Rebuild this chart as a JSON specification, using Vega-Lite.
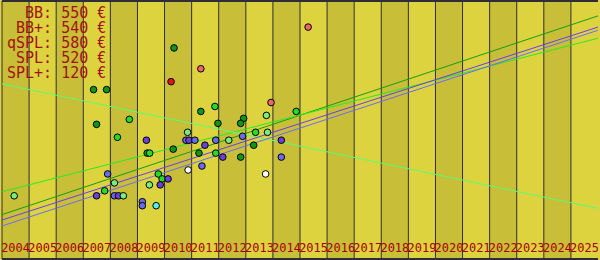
{
  "$schema": "https://vega.github.io/schema/vega-lite/v6.json",
  "width": 600,
  "height": 260,
  "autosize": {"type": "fit", "contains": "padding"},
  "padding": 0,
  "background": "#ddd33e",
  "config": {
    "view": {"stroke": null}
  },
  "datasets": {
    "years": [
      {"year": 2004, "end": 2005, "parity": "even"},
      {"year": 2005, "end": 2006, "parity": "odd"},
      {"year": 2006, "end": 2007, "parity": "even"},
      {"year": 2007, "end": 2008, "parity": "odd"},
      {"year": 2008, "end": 2009, "parity": "even"},
      {"year": 2009, "end": 2010, "parity": "odd"},
      {"year": 2010, "end": 2011, "parity": "even"},
      {"year": 2011, "end": 2012, "parity": "odd"},
      {"year": 2012, "end": 2013, "parity": "even"},
      {"year": 2013, "end": 2014, "parity": "odd"},
      {"year": 2014, "end": 2015, "parity": "even"},
      {"year": 2015, "end": 2016, "parity": "odd"},
      {"year": 2016, "end": 2017, "parity": "even"},
      {"year": 2017, "end": 2018, "parity": "odd"},
      {"year": 2018, "end": 2019, "parity": "even"},
      {"year": 2019, "end": 2020, "parity": "odd"},
      {"year": 2020, "end": 2021, "parity": "even"},
      {"year": 2021, "end": 2022, "parity": "odd"},
      {"year": 2022, "end": 2023, "parity": "even"},
      {"year": 2023, "end": 2024, "parity": "odd"},
      {"year": 2024, "end": 2025, "parity": "even"},
      {"year": 2025, "end": 2026, "parity": "odd"}
    ],
    "frame": [
      {"price": 0},
      {"price": 260}
    ],
    "trends": [
      {"series": "BB", "year": 2004, "price": 44.7},
      {"series": "BB", "year": 2026, "price": 245},
      {"series": "BB+", "year": 2004, "price": 67.7},
      {"series": "BB+", "year": 2026, "price": 222.5},
      {"series": "qSPL", "year": 2004, "price": 176.5},
      {"series": "qSPL", "year": 2026, "price": 51},
      {"series": "SPL", "year": 2004, "price": 39.3},
      {"series": "SPL", "year": 2026, "price": 233.7},
      {"series": "SPL+", "year": 2004, "price": 33.3},
      {"series": "SPL+", "year": 2026, "price": 230.5}
    ],
    "points": [
      {"series": "BB", "year": 2007.38, "price": 170.7},
      {"series": "BB", "year": 2007.86, "price": 170.7},
      {"series": "R", "year": 2010.24, "price": 178.7},
      {"series": "BB", "year": 2007.49, "price": 135.7},
      {"series": "BB+", "year": 2008.70, "price": 140.7},
      {"series": "BB+", "year": 2008.26, "price": 122.7},
      {"series": "BB", "year": 2011.34, "price": 148.7},
      {"series": "SPL", "year": 2009.33, "price": 119.7},
      {"series": "qSPL", "year": 2010.85, "price": 127.7},
      {"series": "SPL+", "year": 2010.79, "price": 119.7},
      {"series": "SPL", "year": 2010.90, "price": 119.7},
      {"series": "SPL+", "year": 2011.12, "price": 119.7},
      {"series": "BB", "year": 2009.36, "price": 106.7},
      {"series": "BB+", "year": 2009.45, "price": 106.7},
      {"series": "BB", "year": 2010.32, "price": 110.7},
      {"series": "BB", "year": 2011.27, "price": 106.7},
      {"series": "W", "year": 2010.87, "price": 89.7},
      {"series": "SPL+", "year": 2007.90, "price": 85.7},
      {"series": "BB+", "year": 2009.77, "price": 85.7},
      {"series": "BB+", "year": 2009.91, "price": 80.7},
      {"series": "SPL", "year": 2010.13, "price": 80.7},
      {"series": "qSPL", "year": 2008.15, "price": 76.7},
      {"series": "BB+", "year": 2007.79, "price": 68.7},
      {"series": "qSPL", "year": 2009.44, "price": 74.7},
      {"series": "SPL", "year": 2009.84, "price": 74.7},
      {"series": "SPL", "year": 2007.49, "price": 63.7},
      {"series": "SPL+", "year": 2008.15, "price": 63.7},
      {"series": "SPL", "year": 2008.30, "price": 63.7},
      {"series": "qSPL", "year": 2008.48, "price": 63.7},
      {"series": "qSPL", "year": 2004.45, "price": 63.7},
      {"series": "SPL+", "year": 2009.18, "price": 57.7},
      {"series": "SPL+", "year": 2009.18, "price": 53.7},
      {"series": "C", "year": 2009.69, "price": 53.7},
      {"series": "SPL+", "year": 2011.38, "price": 93.7},
      {"series": "S", "year": 2013.93, "price": 157.7},
      {"series": "BB+", "year": 2011.86, "price": 153.7},
      {"series": "BB+", "year": 2014.86, "price": 148.7},
      {"series": "qSPL", "year": 2013.76, "price": 144.7},
      {"series": "BB", "year": 2012.92, "price": 141.7},
      {"series": "BB", "year": 2012.81, "price": 136.7},
      {"series": "BB", "year": 2011.97, "price": 136.7},
      {"series": "BB+", "year": 2013.36, "price": 127.7},
      {"series": "qSPL", "year": 2013.80, "price": 127.7},
      {"series": "qSPL", "year": 2012.37, "price": 119.7},
      {"series": "SPL+", "year": 2011.89, "price": 119.7},
      {"series": "SPL+", "year": 2012.88, "price": 123.7},
      {"series": "SPL", "year": 2011.49, "price": 114.7},
      {"series": "BB", "year": 2013.29, "price": 114.7},
      {"series": "SPL", "year": 2014.31, "price": 119.7},
      {"series": "BB+", "year": 2011.89, "price": 106.7},
      {"series": "SPL", "year": 2012.15, "price": 102.7},
      {"series": "BB", "year": 2012.81, "price": 102.7},
      {"series": "SPL+", "year": 2014.31, "price": 102.7},
      {"series": "W", "year": 2013.73, "price": 85.7},
      {"series": "BB", "year": 2010.35, "price": 212.7},
      {"series": "S", "year": 2011.34, "price": 191.7},
      {"series": "S", "year": 2015.30, "price": 233.7}
    ],
    "legend": [
      {"label": "BB: 550 €"},
      {"label": "BB+: 540 €"},
      {"label": "qSPL: 580 €"},
      {"label": "SPL: 520 €"},
      {"label": "SPL+: 120 €"}
    ]
  },
  "layer": [
    {
      "layer": [
        {
          "data": {"name": "years"},
          "mark": {"type": "rect"},
          "encoding": {
            "x": {"field": "year", "type": "quantitative",
                  "scale": {"domain": [2004, 2026], "nice": false, "zero": false},
                  "axis": null},
            "x2": {"field": "end"},
            "color": {"field": "parity", "type": "nominal",
                      "scale": {"domain": ["even", "odd"], "range": ["#c8be37", "#ddd33e"]},
                      "legend": null}
          }
        },
        {
          "data": {"name": "years"},
          "mark": {"type": "rule", "color": "#2e2e38", "strokeWidth": 1},
          "encoding": {
            "x": {"field": "year", "type": "quantitative"}
          }
        },
        {
          "data": {"name": "frame"},
          "mark": {"type": "rule", "color": "#2e2e38", "strokeWidth": 2},
          "encoding": {
            "y": {"field": "price", "type": "quantitative",
                  "scale": {"domain": [0, 260], "nice": false, "zero": false}, "axis": null}
          }
        },
        {
          "data": {"name": "trends"},
          "mark": {"type": "line", "strokeWidth": 1},
          "encoding": {
            "x": {"field": "year", "type": "quantitative"},
            "y": {"field": "price", "type": "quantitative"},
            "stroke": {"field": "series", "type": "nominal",
                       "scale": {"domain": ["BB", "BB+", "qSPL", "SPL", "SPL+"],
                                 "range": ["#10a010", "#22ee22", "#55ff77", "#6a3cf6", "#6a6aff"]},
                       "legend": null}
          }
        },
        {
          "data": {"name": "points"},
          "mark": {"type": "circle", "size": 44, "stroke": "#000000", "strokeWidth": 1, "opacity": 1},
          "encoding": {
            "x": {"field": "year", "type": "quantitative"},
            "y": {"field": "price", "type": "quantitative"},
            "fill": {"field": "series", "type": "nominal",
                     "scale": {"domain": ["BB", "BB+", "qSPL", "SPL", "SPL+", "C", "R", "S", "W"],
                               "range": ["#109810", "#22dd22", "#77ee77", "#6a40dd", "#6a6aee", "#55eeee", "#ee1111", "#ee6666", "#ffffff"]},
                     "legend": null}
          }
        }
      ]
    },
    {
      "data": {"name": "years"},
      "mark": {"type": "text", "align": "center", "baseline": "alphabetic", "dx": 13.6, "clip": true,
               "font": "DejaVu Sans Mono", "fontSize": 12, "color": "#a80000"},
      "encoding": {
        "x": {"field": "year", "type": "quantitative"},
        "y": {"field": "parity", "type": "nominal",
              "scale": {"type": "band", "domain": ["even", "odd"], "paddingInner": 0, "paddingOuter": 0, "range": [251, 251]},
              "axis": null},
        "text": {"field": "year", "type": "quantitative", "format": "d"}
      }
    },
    {
      "data": {"name": "legend"},
      "mark": {"type": "text", "align": "right", "baseline": "middle",
               "font": "DejaVu Sans Mono", "fontSize": 15, "color": "#a41010"},
      "encoding": {
        "x": {"datum": 2007.85, "type": "quantitative"},
        "y": {"field": "label", "type": "nominal", "sort": null, "bandPosition": 0.78,
              "scale": {"type": "band", "paddingInner": 0, "paddingOuter": 0, "range": [0, 75]},
              "axis": null},
        "text": {"field": "label"}
      }
    }
  ],
  "resolve": {"scale": {"y": "independent"}}
}
